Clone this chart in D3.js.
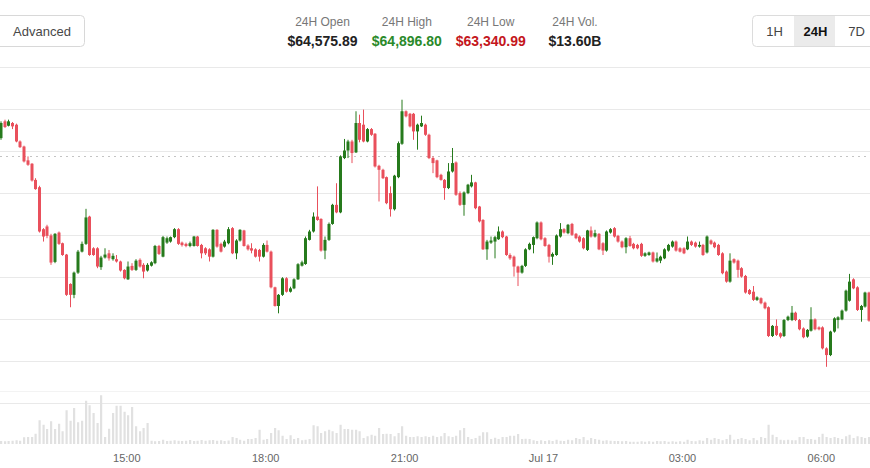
<!DOCTYPE html>
<html>
<head>
<meta charset="utf-8">
<style>
  body { margin: 0; background: #fff; }
  svg { display: block; font-family: "Helvetica Neue", Helvetica, Arial, sans-serif; }
</style>
<script src="https://d3js.org/d3.v7.min.js"></script>
</head>
<body>
<svg width="870" height="468"></svg>
<script>

// 5 minute candles, first one starts Jul 16 12:15
var startTime = new Date(2024, 6, 16, 12, 15);

var opens = [
  64661,64741,64720,64733,64725,64645,64621,64555,64539,64462,
  64427,64227,64240,64197,64071,64211,64160,64106,63966,63914,
  64020,64120,64157,64287,64136,64136,64046,64092,64112,64084,
  64084,64073,64033,63988,64052,64033,64081,64057,64030,64053,
  64065,64147,64096,64163,64168,64189,64227,64163,64157,64147,
  64147,64192,64152,64136,64131,64096,64224,64157,64144,64160,
  64232,64112,64173,64221,64149,64136,64131,64128,64096,64152,
  64120,63950,63861,63914,63993,63929,63945,63988,64053,64061,
  64176,64216,64287,64276,64125,64176,64252,64343,64307,64566,
  64602,64645,64593,64733,64725,64645,64704,64682,64529,64510,
  64475,64399,64322,64475,64634,64789,64777,64777,64693,64717,
  64725,64677,64566,64555,64486,64462,64423,64502,64545,64399,
  64343,64399,64431,64450,64335,64271,64131,64163,64168,64179,
  64216,64192,64104,64096,64049,64020,64052,64131,64152,64184,
  64259,64184,64152,64096,64104,64192,64227,64208,64252,64205,
  64192,64184,64128,64221,64192,64205,64160,64125,64211,64232,
  64195,64168,64141,64184,64157,64152,64157,64100,64104,64116,
  64073,64077,64088,64125,64144,64168,64136,64136,64131,64168,
  64163,64144,64152,64116,64173,64163,64152,64112,64025,63977,
  64084,64077,64041,64004,63937,63929,63890,63898,63877,63855,
  63718,63766,63731,63718,63794,63794,63829,63794,63754,63715,
  63743,63797,63759,63759,63659,63627,63739,63794,63797,63839,
  63886,63988,63950,63842,63858,63925
];
var highs = [
  64741,64749,64749,64738,64730,64650,64625,64574,64542,64470,
  64434,64232,64248,64205,64208,64216,64163,64109,63969,64025,
  64128,64168,64324,64291,64141,64141,64100,64136,64128,64112,
  64104,64077,64036,64073,64065,64084,64088,64065,64065,64074,
  64152,64152,64195,64192,64192,64232,64232,64168,64163,64168,
  64195,64195,64157,64141,64136,64227,64227,64163,64176,64237,
  64237,64179,64227,64224,64155,64160,64136,64133,64160,64173,
  64125,63953,63918,63998,63998,63953,63993,64065,64077,64192,
  64224,64307,64431,64279,64192,64259,64348,64446,64579,64657,
  64653,64653,64789,64773,64797,64709,64709,64685,64534,64515,
  64478,64431,64486,64645,64844,64793,64781,64781,64730,64768,
  64730,64682,64574,64558,64491,64466,64542,64614,64550,64407,
  64407,64443,64486,64453,64338,64275,64176,64192,64195,64240,
  64221,64195,64112,64101,64053,64057,64136,64163,64192,64264,
  64264,64189,64157,64116,64202,64256,64232,64252,64257,64209,
  64197,64189,64224,64240,64224,64208,64165,64221,64232,64237,
  64200,64173,64189,64195,64162,64157,64162,64117,64120,64120,
  64116,64101,64136,64157,64173,64173,64141,64141,64192,64173,
  64168,64168,64157,64197,64178,64168,64157,64117,64030,64112,
  64088,64082,64046,64009,63942,63956,63907,63902,63882,63859,
  63770,63797,63735,63799,63815,63861,63834,63799,63759,63751,
  63855,63802,63764,63764,63664,63743,63807,63812,63844,63939,
  64014,63993,63955,63866,63929,63929
];
var lows = [
  64653,64709,64717,64704,64641,64614,64545,64529,64454,64415,
  64211,64168,64184,64057,64065,64152,64100,63909,63855,63898,
  64014,64116,64152,64100,64100,64041,64033,64087,64077,64077,
  64068,64025,63988,63985,64028,64028,64044,63993,64025,64049,
  64060,64104,64093,64157,64163,64184,64152,64144,64141,64141,
  64144,64144,64088,64104,64073,64092,64139,64116,64139,64155,
  64108,64084,64168,64144,64125,64112,64092,64073,64092,64116,
  63945,63858,63826,63909,63925,63925,63941,63985,64049,64057,
  64173,64211,64267,64120,64084,64171,64248,64303,64303,64561,
  64566,64542,64590,64641,64641,64641,64672,64521,64359,64466,
  64346,64287,64316,64470,64629,64760,64712,64653,64606,64714,
  64672,64561,64494,64470,64458,64367,64418,64497,64386,64338,
  64291,64394,64426,64322,64259,64128,64081,64157,64088,64176,
  64184,64100,64081,64001,63956,64015,64047,64127,64112,64179,
  64174,64143,64068,64057,64100,64187,64206,64203,64195,64179,
  64163,64131,64123,64187,64187,64127,64104,64120,64206,64187,
  64163,64136,64112,64143,64131,64131,64095,64095,64100,64068,
  64068,64065,64084,64120,64139,64120,64116,64108,64127,64147,
  64139,64139,64100,64111,64152,64136,64100,64012,63972,63972,
  64063,63996,63996,63920,63914,63885,63885,63869,63845,63713,
  63713,63718,63707,63713,63789,63789,63789,63745,63707,63710,
  63739,63745,63745,63654,63571,63622,63734,63754,63793,63834,
  63882,63941,63837,63786,63853,63786
];
var closes = [
  64733,64714,64741,64717,64645,64618,64550,64534,64459,64418,
  64216,64192,64195,64068,64205,64157,64104,63914,63914,64020,
  64120,64157,64283,64104,64104,64049,64092,64106,64088,64100,
  64073,64030,63993,64049,64033,64077,64049,64025,64057,64069,
  64147,64109,64189,64184,64189,64227,64157,64151,64147,64160,
  64192,64147,64112,64112,64096,64224,64144,64120,64168,64227,
  64112,64173,64224,64147,64131,64125,64096,64096,64152,64120,
  63950,63861,63914,63993,63929,63945,63988,64060,64069,64184,
  64216,64287,64271,64125,64176,64252,64343,64307,64574,64602,
  64645,64590,64733,64653,64645,64704,64677,64526,64510,64470,
  64351,64322,64482,64637,64789,64765,64717,64693,64725,64733,
  64677,64566,64542,64475,64462,64423,64502,64542,64391,64343,
  64402,64439,64450,64327,64264,64131,64168,64173,64189,64216,
  64189,64104,64088,64049,64020,64052,64131,64157,64189,64259,
  64179,64147,64096,64109,64197,64227,64211,64248,64200,64184,
  64168,64136,64221,64192,64208,64131,64125,64216,64227,64192,
  64168,64141,64184,64147,64136,64136,64100,64112,64116,64073,
  64088,64096,64131,64152,64168,64125,64120,64112,64168,64152,
  64144,64152,64104,64192,64157,64141,64104,64017,63977,64077,
  64068,64033,64001,63925,63918,63890,63902,63874,63850,63718,
  63766,63723,63715,63794,63810,63829,63794,63750,63712,63747,
  63797,63750,63750,63659,63627,63739,63802,63807,63839,63934,
  63977,63945,63842,63861,63925,63791
];
// volume per candle (BTC)
var volumes = [
  12,11,12,13,15,13,27,28,28,41,
  95,77,60,91,60,81,51,135,93,144,
  87,93,173,155,124,84,195,28,61,124,
  153,153,129,115,148,71,51,64,84,13,
  11,12,17,12,13,15,13,12,13,16,
  12,13,16,13,15,16,13,15,12,14,
  28,24,17,13,20,20,24,57,17,20,
  44,64,55,33,20,35,20,24,15,17,
  20,75,71,44,51,57,51,44,77,60,
  60,57,57,51,24,31,37,33,64,40,
  41,40,31,44,71,33,28,28,31,28,
  31,28,33,28,31,44,31,28,33,55,
  64,28,20,24,33,47,47,20,25,20,
  28,28,33,33,40,20,21,20,15,12,
  15,12,15,12,17,13,12,17,15,24,
  20,28,15,24,20,17,13,15,13,12,
  12,11,12,9,9,9,11,9,11,9,
  12,11,12,9,11,9,11,9,17,12,
  11,15,13,24,17,24,20,15,20,37,
  17,20,24,20,15,24,15,28,24,77,
  37,28,17,15,17,15,15,28,28,20,
  20,17,28,41,28,24,28,24,20,31,
  37,24,31,28,24,28
];

var priceTicks = [63400, 63600, 63800, 64000, 64200, 64400, 64600, 64800, 65000];
var openPrice = 64575.89;
var tickTimes = [
  new Date(2024, 6, 16, 15), new Date(2024, 6, 16, 18), new Date(2024, 6, 16, 21),
  new Date(2024, 6, 17, 0), new Date(2024, 6, 17, 3), new Date(2024, 6, 17, 6)
];
var tickLabels = ["15:00", "18:00", "21:00", "Jul 17", "03:00", "06:00"];

var statLabels = ["24H Open", "24H High", "24H Low", "24H Vol."];
var statValues = ["$64,575.89", "$64,896.80", "$63,340.99", "$13.60B"];
var statColors = ["#222", "#2a8a2a", "#c4161c", "#222"];
var intervals = ["1H", "24H", "7D"];
var selectedInterval = "24H";

var data = opens.map(function(o, i) {
  return {
    t: d3.timeMinute.offset(startTime, 5 * i),
    o: o, h: highs[i], l: lows[i], c: closes[i], v: volumes[i]
  };
});

var svg = d3.select("svg");
var W = 870;

// scales
var x = d3.scaleTime()
  .domain([new Date(2024, 6, 16, 15), new Date(2024, 6, 17, 6)])
  .range([126.3, 820.8]);
var y = d3.scaleLinear().domain([63400, 65000]).range([402.7, 67]);
var yv = d3.scaleLinear().domain([0, 200]).range([444, 394]);

var candleW = 3;
var cx = function(d) { return Math.round(x(d3.timeSecond.offset(d.t, 150)) * 2) / 2; };

// price grid
svg.append("g")
  .selectAll("line")
  .data(priceTicks)
  .enter().append("line")
    .attr("x1", 0).attr("x2", W)
    .attr("y1", function(d) { return Math.round(y(d)) + 0.5; })
    .attr("y2", function(d) { return Math.round(y(d)) + 0.5; })
    .attr("stroke", "#e9e9e9");

// volume pane top line
svg.append("line")
  .attr("x1", 0).attr("x2", W)
  .attr("y1", 391.5).attr("y2", 391.5)
  .attr("stroke", "#f3f3f3");

// 24h open reference
svg.append("line")
  .attr("x1", 0).attr("x2", W)
  .attr("y1", Math.round(y(openPrice)) + 0.5)
  .attr("y2", Math.round(y(openPrice)) + 0.5)
  .attr("stroke", "#c4c4c4")
  .attr("stroke-dasharray", "2,4");

// volume bars
svg.append("g")
  .selectAll("rect")
  .data(data)
  .enter().append("rect")
    .attr("x", function(d) { return cx(d) - 1; })
    .attr("width", 2.2)
    .attr("y", function(d) { return yv(d.v); })
    .attr("height", function(d) { return yv(0) - yv(d.v); })
    .attr("fill", "#e1e1e1");

// candles
var up = "#267a1c", down = "#e9505c";
var candles = svg.append("g").selectAll("g")
  .data(data)
  .enter().append("g")
    .attr("fill", function(d) { return d.c > d.o ? up : down; })
    .attr("stroke", function(d) { return d.c > d.o ? up : down; });

candles.append("line")
  .attr("x1", cx).attr("x2", cx)
  .attr("y1", function(d) { return y(d.h); })
  .attr("y2", function(d) { return y(d.l); })
  .attr("stroke-width", 1);

candles.append("rect")
  .attr("stroke", "none")
  .attr("x", function(d) { return cx(d) - candleW / 2; })
  .attr("width", candleW)
  .attr("y", function(d) { return y(Math.max(d.o, d.c)); })
  .attr("height", function(d) { return Math.max(1, Math.abs(y(d.o) - y(d.c))); });

// time axis
var xAxis = svg.append("g")
  .attr("transform", "translate(0,444)")
  .call(d3.axisBottom(x)
    .tickValues(tickTimes)
    .tickFormat(function(d, i) { return tickLabels[i]; })
    .tickSize(0)
    .tickPadding(10));
xAxis.select(".domain").remove();
xAxis.selectAll("text")
  .attr("fill", "#666")
  .style("font-size", "11px")
  .style("font-family", "\"Helvetica Neue\", Helvetica, Arial, sans-serif");

// header
svg.append("rect")
  .attr("x", -6.5).attr("y", 15.5)
  .attr("width", 91).attr("height", 31)
  .attr("rx", 4)
  .attr("fill", "#fff")
  .attr("stroke", "#d8d8d8");
svg.append("text")
  .attr("x", 42).attr("y", 35.5)
  .attr("text-anchor", "middle")
  .attr("fill", "#484848")
  .style("font-size", "13px")
  .text("Advanced");

var statX = d3.scalePoint().domain(statLabels).range([322.5, 575]);
var statPos = [322.5, 406.8, 490.7, 575];
var stats = svg.append("g").selectAll("g")
  .data(statLabels)
  .enter().append("g")
    .attr("transform", function(d, i) { return "translate(" + statPos[i] + ",0)"; });
stats.append("text")
  .attr("y", 26)
  .attr("text-anchor", "middle")
  .attr("fill", "#777")
  .style("font-size", "12px")
  .text(function(d) { return d; });
stats.append("text")
  .attr("y", 46)
  .attr("text-anchor", "middle")
  .attr("fill", function(d, i) { return statColors[i]; })
  .style("font-size", "14px")
  .style("font-weight", "bold")
  .text(function(d, i) { return statValues[i]; });

// interval switch
var segW = 41, segX = 753;
svg.append("rect")
  .attr("x", segX - 0.5).attr("y", 15.5)
  .attr("width", segW * 3 + 8).attr("height", 31)
  .attr("rx", 4)
  .attr("fill", "#fff")
  .attr("stroke", "#dcdcdc");
var segs = svg.append("g").selectAll("g")
  .data(intervals)
  .enter().append("g")
    .attr("transform", function(d, i) { return "translate(" + (segX + i * segW) + ",16)"; });
segs.filter(function(d) { return d === selectedInterval; })
  .append("rect")
    .attr("width", segW).attr("height", 30)
    .attr("fill", "#ebebeb");
segs.append("text")
  .attr("x", segW / 2 + 1).attr("y", 20)
  .attr("text-anchor", "middle")
  .attr("fill", function(d) { return d === selectedInterval ? "#111" : "#444"; })
  .style("font-size", "13px")
  .style("font-weight", function(d) { return d === selectedInterval ? "bold" : "normal"; })
  .text(function(d) { return d; });

</script>
</body>
</html>
